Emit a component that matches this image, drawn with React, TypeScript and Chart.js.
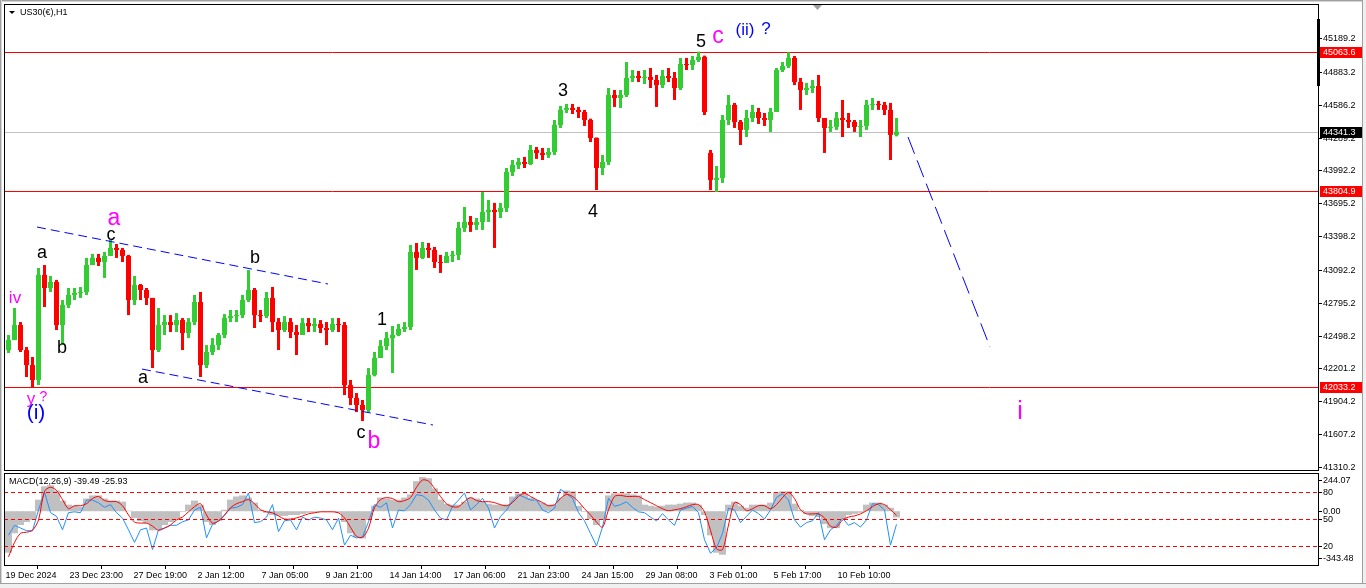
import React, { useEffect, useRef } from "react";
import { Chart, registerables } from "chart.js";
Chart.register(...registerables);

const FONT = '"Liberation Sans", Arial, sans-serif';

// ---- price data (6-hour candles) ----
const firstOpen = 42368;
const gapOpens: Record<number, number> = { 117: 44150 };
const highs = [
  42504, 42748, 42621, 42395, 42305, 43110, 43137, 43038, 43002, 42820,
  42929, 42929, 42938, 43201, 43237, 43237, 43255, 43363, 43327, 43291,
  43228, 43038, 42965, 42929, 42839, 42748, 42684, 42684, 42702, 42657,
  42657, 42866, 42893, 42413, 42476, 42522, 42693, 42730, 42730, 42866,
  43092, 42929, 42730, 42893, 42938, 42657, 42675, 42657, 42594, 42657,
  42657, 42657, 42639, 42621, 42657, 42657, 42621, 42097, 41979, 41916,
  42205, 42350, 42458, 42531, 42585, 42603, 42621, 43318, 43336, 43345,
  43336, 43300, 43228, 43255, 43264, 43526, 43662, 43580, 43562, 43797,
  43725, 43698, 43698, 44014, 44086, 44105, 44114, 44222, 44204, 44195,
  44195, 44448, 44575, 44593, 44593, 44566, 44539, 44460, 44290, 44132,
  44737, 44719, 44719, 44972, 44900, 44891, 44900, 44918, 44855, 44900,
  44918, 44882, 45009, 45009, 45027, 45066, 45030, 44177, 44032, 44493,
  44674, 44602, 44448, 44539, 44584, 44557, 44511, 44557, 44918, 44972,
  45060, 45027, 44828, 44783, 44810, 44855, 44466, 44448, 44520, 44629,
  44511, 44448, 44448, 44629, 44647, 44620, 44611, 44602, 44466,
];
const lows = [
  42341, 42458, 42350, 42124, 42033, 42051, 42757, 42893, 42549, 42413,
  42748, 42820, 42839, 42866, 43137, 43128, 43020, 43219, 43201, 43164,
  42684, 42775, 42820, 42775, 42205, 42350, 42504, 42531, 42531, 42368,
  42476, 42594, 42124, 42205, 42323, 42368, 42476, 42621, 42621, 42657,
  42802, 42567, 42621, 42657, 42531, 42368, 42531, 42476, 42323, 42504,
  42531, 42531, 42522, 42413, 42531, 42531, 41961, 41871, 41807, 41726,
  41807, 42130, 42296, 42368, 42160, 42494, 42531, 42549, 43092, 43190,
  43201, 43110, 43065, 43155, 43164, 43182, 43436, 43436, 43454, 43454,
  43526, 43291, 43562, 43616, 43942, 44005, 44014, 44041, 44096, 44086,
  44105, 44132, 44376, 44511, 44502, 44466, 44394, 44249, 43815, 43951,
  44041, 44566, 44557, 44656, 44791, 44791, 44773, 44737, 44566, 44737,
  44791, 44629, 44719, 44900, 44900, 44972, 44493, 43815, 43797, 43879,
  44403, 44376, 44222, 44294, 44430, 44412, 44394, 44340, 44520, 44882,
  44918, 44764, 44539, 44674, 44692, 44430, 44150, 44340, 44358, 44294,
  44376, 44340, 44294, 44358, 44539, 44539, 44493, 44086, 44300,
];
const closes = [
  42458, 42594, 42368, 42232, 42097, 43047, 42929, 42983, 42594, 42775,
  42866, 42884, 42893, 43137, 43201, 43164, 43219, 43291, 43273, 43219,
  42820, 42956, 42911, 42839, 42368, 42594, 42621, 42594, 42639, 42522,
  42621, 42802, 42232, 42350, 42413, 42504, 42657, 42675, 42684, 42820,
  42911, 42684, 42675, 42839, 42621, 42549, 42621, 42531, 42504, 42612,
  42585, 42603, 42567, 42549, 42603, 42594, 42051, 41934, 41871, 41826,
  42142, 42296, 42404, 42476, 42504, 42558, 42576, 43255, 43201, 43291,
  43273, 43164, 43155, 43219, 43228, 43472, 43526, 43499, 43526, 43616,
  43635, 43616, 43653, 43978, 44041, 44068, 44050, 44177, 44150, 44132,
  44159, 44403, 44539, 44557, 44539, 44520, 44448, 44285, 44014, 44068,
  44674, 44647, 44674, 44828, 44846, 44828, 44837, 44810, 44764, 44846,
  44828, 44737, 44954, 44945, 44990, 45018, 44520, 43906, 43924, 44448,
  44584, 44430, 44358, 44466, 44520, 44466, 44448, 44520, 44900, 44936,
  45009, 44791, 44719, 44737, 44755, 44466, 44376, 44385, 44466, 44448,
  44430, 44385, 44394, 44584, 44593, 44584, 44539, 44313, 44341.3,
];

// ---- MACD panel ----
const macdHist = [
  -265, -141, -88, -69, -56, 74, 159, 166, 133, 68,
  42, 35, 29, 81, 101, 101, 81, 68, 68, 61,
  3, -43, -63, -76, -122, -115, -88, -69, -50, -4,
  42, 68, 42, -69, -88, -63, 9, 74, 94, 101,
  87, 55, 9, -10, -24, -30, -30, -24, -24, -17,
  -10, -10, -4, -4, -4, -10, -69, -141, -167, -174,
  -56, 35, 87, 81, 74, 74, 87, 107, 192, 218,
  211, 146, 74, 48, 42, 42, 61, 87, 81, 61,
  48, 42, 42, 42, 94, 114, 114, 87, 68, 55,
  42, 42, 87, 133, 127, 35, -4, -50, -88, -56,
  101, 114, 114, 114, 107, 101, 42, 35, 29, 35,
  42, 42, 48, 55, 55, 42, -24, -154, -265, -278,
  42, 61, 35, 22, 42, 42, 42, 55, 120, 127,
  127, 48, 9, -17, -30, -37, -82, -108, -108, -50,
  -24, -17, -10, 42, 55, 55, 42, 22, -39.49,
];
const macdSignal = [
  -291, -200, -141, -134, -122, -56, 127, 153, 133, 74,
  16, 35, 35, 48, 81, 94, 68, 61, 61, 35,
  -24, -69, -76, -76, -95, -122, -108, -88, -56, -37,
  -4, 29, 48, -24, -76, -63, -24, 22, 48, 61,
  74, 48, 9, -4, -10, -30, -50, -50, -43, -30,
  -17, -10, -4, -4, -4, -10, -43, -102, -160, -167,
  -108, 22, 74, 87, 81, 61, 68, 87, 153, 199,
  192, 146, 94, 48, 29, 29, 61, 87, 68, 61,
  61, 55, 42, 35, 55, 94, 114, 94, 74, 55,
  35, 42, 81, 107, 94, 61, 16, -24, -69, -102,
  9, 94, 101, 94, 94, 94, 74, 55, 35, 16,
  3, 9, 16, 29, 42, 42, -4, -122, -239, -245,
  -88, 55, 42, 3, 16, 35, 35, 16, 42, 87,
  120, 81, 9, -17, -17, -17, -43, -95, -102, -56,
  -37, -30, -17, 3, 29, 48, 42, 9, -25.93,
];
const oscLine = [
  32, 43, 40, 37, 37, 60, 80, 57, 53, 38,
  57, 58, 57, 71, 71, 68, 63, 66, 57, 51,
  38, 24, 38, 40, 16, 38, 40, 43, 43, 47,
  49, 60, 63, 29, 44, 48, 54, 62, 63, 66,
  79, 46, 47, 52, 66, 36, 48, 49, 38, 52,
  49, 52, 51, 49, 38, 51, 21, 32, 29, 30,
  47, 66, 63, 68, 40, 60, 59, 66, 77, 76,
  71, 60, 51, 49, 64, 71, 79, 60, 66, 73,
  62, 40, 53, 60, 70, 77, 74, 71, 71, 60,
  57, 62, 83, 78, 73, 57, 48, 34, 20, 41,
  73, 64, 66, 69, 63, 58, 57, 52, 48, 56,
  49, 43, 60, 62, 64, 57, 27, 12, 18, 34,
  62, 60, 46, 53, 60, 56, 50, 60, 74, 78,
  71, 49, 41, 46, 48, 57, 27, 38, 43, 51,
  43, 46, 41, 49, 67, 66, 60, 21, 44,
];
const oscLevels = [80, 50, 20];
const macdMax = 244.07;
const macdMin = -343.48;

// ---- axes ----
const xTickHours = [0, 64, 128, 192, 256, 320, 384, 448, 512, 576, 640, 704, 768, 832];
const xTickLabels = [
  "19 Dec 2024", "23 Dec 23:00", "27 Dec 19:00", "2 Jan 12:00", "7 Jan 05:00",
  "9 Jan 21:00", "14 Jan 14:00", "17 Jan 06:00", "21 Jan 23:00", "24 Jan 15:00",
  "29 Jan 08:00", "3 Feb 01:00", "5 Feb 17:00", "10 Feb 10:00",
];
const yTickValues = [
  45189.2, 44883.2, 44586.2, 44289.2, 43992.2, 43695.2, 43398.2, 43092.2,
  42795.2, 42498.2, 42201.2, 41904.2, 41607.2, 41310.2,
];
const priceMin = 41283.3;
const priceMax = 45496.7;
const hourMin = -1.5;
const hourMax = 1312.5;

// ---- drawn objects ----
const levelLines = [45063.6, 43804.9, 42033.2];
const bidPrice = 44341.3;
const upperChannel = [{ x: 31.5, y: 43480 }, { x: 322.5, y: 42965 }];
const lowerChannel = [{ x: 136.5, y: 42196 }, { x: 427.5, y: 41690 }];
const forecastPath = [{ x: 902.5, y: 44294 }, { x: 984.5, y: 42395 }];
const waveLabels = [
  { t: "iv", x: 9.5, y: 42793, k: "magS" },
  { t: "y", x: 25.5, y: 41880, k: "magS" },
  { t: "?", x: 38, y: 41907, k: "magQ" },
  { t: "(i)", x: 30.5, y: 41744, k: "blue" },
  { t: "a", x: 36.5, y: 43200, k: "blk" },
  { t: "b", x: 56.5, y: 42341, k: "blk" },
  { t: "a", x: 108.5, y: 43498, k: "mag" },
  { t: "c", x: 105.5, y: 43363, k: "blk" },
  { t: "a", x: 137.5, y: 42070, k: "blk" },
  { t: "b", x: 249.5, y: 43155, k: "blk" },
  { t: "c", x: 355.5, y: 41573, k: "blk" },
  { t: "b", x: 368.5, y: 41482, k: "mag" },
  { t: "1", x: 376.5, y: 42594, k: "blk" },
  { t: "3", x: 557.5, y: 44665, k: "blk" },
  { t: "4", x: 587.5, y: 43571, k: "blk" },
  { t: "5", x: 695.5, y: 45108, k: "blk" },
  { t: "c", x: 712.5, y: 45144, k: "mag" },
  { t: "(ii)", x: 739.5, y: 45216, k: "blueS" },
  { t: "?", x: 760.5, y: 45226, k: "blueS" },
  { t: "i", x: 1014.5, y: 41744, k: "magL" },
];

const HOURS_PER_CANDLE = 6;
const candleHour = (i: number) => i * HOURS_PER_CANDLE + HOURS_PER_CANDLE / 2;

const labelStyle: Record<string, { size: number; color: string }> = {
  blk: { size: 18, color: "#000000" },
  mag: { size: 23, color: "#ff00ff" },
  magL: { size: 25, color: "#ff00ff" },
  magS: { size: 17, color: "#ff00ff" },
  magQ: { size: 14, color: "#ff00ff" },
  blue: { size: 21, color: "#0000ff" },
  blueS: { size: 17, color: "#0000ff" },
};

const BULL = "#32cd32";
const BEAR = "#ff0000";

function mainConfig(): any {
  const opens = closes.map((c, i) =>
    gapOpens[i] !== undefined ? gapOpens[i] : i === 0 ? firstOpen : closes[i - 1]
  );
  const colors = closes.map((c, i) => (c >= opens[i] ? BULL : BEAR));
  const decor = {
    id: "mainDecor",
    beforeDatasetsDraw(chart: any) {
      const { ctx, chartArea: a, scales } = chart;
      const y = scales.y;
      ctx.save();
      ctx.lineWidth = 1;
      const drawH = (v: number, color: string) => {
        const py = Math.round(y.getPixelForValue(v)) + 0.5;
        ctx.strokeStyle = color;
        ctx.beginPath();
        ctx.moveTo(a.left, py);
        ctx.lineTo(a.right, py);
        ctx.stroke();
      };
      drawH(bidPrice, "#c0c0c0");
      levelLines.forEach((v) => drawH(v, "#ff0000"));
      ctx.restore();
    },
    afterDatasetsDraw(chart: any) {
      const { ctx, scales } = chart;
      ctx.save();
      ctx.textAlign = "center";
      ctx.textBaseline = "alphabetic";
      waveLabels.forEach((w) => {
        const st = labelStyle[w.k];
        ctx.font = `${st.size}px ${FONT}`;
        ctx.fillStyle = st.color;
        ctx.fillText(w.t, scales.x.getPixelForValue(w.x), scales.y.getPixelForValue(w.y));
      });
      ctx.restore();
    },
    afterDraw(chart: any) {
      const { ctx, chartArea: a, scales } = chart;
      const y = scales.y;
      ctx.save();
      ctx.strokeStyle = "#000";
      ctx.lineWidth = 1;
      ctx.strokeRect(4.5, 4.5, a.right - 4, a.bottom - 4);
      ctx.font = `9px ${FONT}`;
      ctx.fillStyle = "#000";
      ctx.textAlign = "left";
      ctx.textBaseline = "middle";
      yTickValues.forEach((v) => {
        const py = Math.round(y.getPixelForValue(v)) + 0.5;
        ctx.beginPath();
        ctx.moveTo(a.right + 1, py);
        ctx.lineTo(a.right + 4, py);
        ctx.stroke();
        ctx.fillText(v.toFixed(1), a.right + 5, py);
      });
      ctx.fillRect(a.right - 1, 19, 3, 67);
      const box = (v: number, bg: string) => {
        const py = Math.round(y.getPixelForValue(v));
        ctx.fillStyle = bg;
        ctx.fillRect(a.right + 2, py - 5, 42, 11);
        ctx.fillStyle = "#fff";
        ctx.fillText(v.toFixed(1), a.right + 5, py + 0.5);
      };
      levelLines.forEach((v) => box(v, "#ff0000"));
      box(bidPrice, "#000000");
      // title
      ctx.fillStyle = "#000";
      ctx.beginPath();
      ctx.moveTo(9, 11);
      ctx.lineTo(15, 11);
      ctx.lineTo(12, 14);
      ctx.closePath();
      ctx.fill();
      ctx.fillText("US30(€),H1", 20, 12.5);
      // shift marker
      ctx.fillStyle = "#a0a0a0";
      ctx.beginPath();
      ctx.moveTo(813, 5);
      ctx.lineTo(822, 5);
      ctx.lineTo(817.5, 10);
      ctx.closePath();
      ctx.fill();
      ctx.restore();
    },
  };
  const lineDs = (data: any[], dash: number[]) => ({
    type: "line",
    data,
    borderColor: "#0000ff",
    borderWidth: 1,
    borderDash: dash,
    pointRadius: 0,
    fill: false,
    order: 0,
  });
  return {
    type: "bar",
    data: {
      datasets: [
        {
          data: closes.map((c, i) => ({ x: candleHour(i), y: [lows[i], highs[i]] })),
          backgroundColor: colors,
          barThickness: 3,
          grouped: false,
          inflateAmount: 0,
          borderWidth: 0,
          order: 2,
        },
        {
          data: closes.map((c, i) => ({
            x: candleHour(i),
            y: [Math.min(opens[i], c), Math.max(opens[i], c)],
          })),
          backgroundColor: colors,
          barThickness: 5,
          minBarLength: 1,
          grouped: false,
          inflateAmount: 0,
          borderWidth: 0,
          order: 1,
        },
        lineDs(upperChannel, [9, 5]),
        lineDs(lowerChannel, [9, 5]),
        lineDs(forecastPath, [18, 7]),
      ],
    },
    options: {
      responsive: false,
      animation: false,
      devicePixelRatio: 1,
      events: [],
      layout: { padding: { left: 4, top: 4, right: 0, bottom: 1 } },
      plugins: { legend: { display: false }, tooltip: { enabled: false } },
      scales: {
        x: { type: "linear", display: false, min: hourMin, max: hourMax, offset: false },
        y: {
          position: "right",
          min: priceMin,
          max: priceMax,
          ticks: { display: false },
          grid: { display: false },
          border: { display: false },
          afterFit: (s: any) => {
            s.width = 48;
          },
        },
      },
    },
    plugins: [decor],
  };
}

function macdConfig(): any {
  const decor = {
    id: "macdDecor",
    afterDatasetsDraw(chart: any) {
      const { ctx, chartArea: a, scales } = chart;
      ctx.save();
      ctx.strokeStyle = "#ff0000";
      ctx.lineWidth = 1;
      ctx.setLineDash([4, 3]);
      oscLevels.forEach((l) => {
        const py = Math.round(scales.y2.getPixelForValue(l)) + 0.5;
        ctx.beginPath();
        ctx.moveTo(a.left, py);
        ctx.lineTo(a.right, py);
        ctx.stroke();
      });
      ctx.restore();
    },
    afterDraw(chart: any) {
      const { ctx, chartArea: a, scales } = chart;
      ctx.save();
      ctx.strokeStyle = "#000";
      ctx.lineWidth = 1;
      ctx.strokeRect(4.5, a.top + 0.5, a.right - 4, a.bottom - a.top);
      ctx.font = `9px ${FONT}`;
      ctx.fillStyle = "#000";
      ctx.textAlign = "left";
      ctx.textBaseline = "middle";
      ctx.fillText(
        `MACD(12,26,9) ${macdHist[macdHist.length - 1].toFixed(2)} ${macdSignal[macdSignal.length - 1].toFixed(2)}`,
        9,
        a.top + 9
      );
      const lab = (text: string, py: number) => {
        const yy = Math.round(py) + 0.5;
        ctx.beginPath();
        ctx.moveTo(a.right + 1, yy);
        ctx.lineTo(a.right + 4, yy);
        ctx.stroke();
        ctx.fillText(text, a.right + 5, yy);
      };
      lab(macdMax.toFixed(2), a.top + 7);
      lab((0).toFixed(2), scales.y.getPixelForValue(0));
      oscLevels.forEach((l) => lab(String(l), scales.y2.getPixelForValue(l)));
      lab(macdMin.toFixed(2), a.bottom - 7);
      ctx.restore();
    },
  };
  return {
    type: "bar",
    data: {
      datasets: [
        {
          type: "line",
          data: macdSignal.map((v, i) => ({ x: candleHour(i), y: v })),
          borderColor: "#ff0000",
          borderWidth: 1,
          pointRadius: 0,
          tension: 0.3,
          yAxisID: "y",
          order: 0,
        },
        {
          type: "line",
          data: oscLine.map((v, i) => ({ x: candleHour(i), y: v })),
          borderColor: "#1e90ff",
          borderWidth: 1,
          pointRadius: 0,
          tension: 0,
          yAxisID: "y2",
          order: 1,
        },
        {
          data: macdHist.map((v, i) => ({ x: candleHour(i), y: v })),
          backgroundColor: "#c0c0c0",
          barThickness: 7,
          grouped: false,
          inflateAmount: 0,
          borderWidth: 0,
          yAxisID: "y",
          order: 2,
        },
      ],
    },
    options: {
      responsive: false,
      animation: false,
      devicePixelRatio: 1,
      events: [],
      layout: { padding: { left: 4, top: 2, right: 0, bottom: 0 } },
      plugins: { legend: { display: false }, tooltip: { enabled: false } },
      scales: {
        x: {
          type: "linear",
          position: "bottom",
          min: hourMin,
          max: hourMax,
          offset: false,
          afterBuildTicks: (s: any) => {
            s.ticks = xTickHours.map((v) => ({ value: v }));
          },
          afterFit: (s: any) => {
            s.height = 23;
          },
          ticks: {
            autoSkip: false,
            maxRotation: 0,
            minRotation: 0,
            align: "start",
            padding: 1,
            color: "#000",
            font: { family: FONT, size: 9 },
            callback: (_v: any, i: number) => xTickLabels[i],
          },
          grid: { drawOnChartArea: false, drawTicks: true, tickLength: 4, color: "#000", tickColor: "#000" },
          border: { display: false },
        },
        y: {
          position: "right",
          min: macdMin,
          max: macdMax,
          ticks: { display: false },
          grid: { display: false },
          border: { display: false },
          afterFit: (s: any) => {
            s.width = 48;
          },
        },
        y2: { position: "right", display: false, min: -1.1, max: 101.1 },
      },
    },
    plugins: [decor],
  };
}

export default function App() {
  const mainRef = useRef<HTMLCanvasElement>(null);
  const macdRef = useRef<HTMLCanvasElement>(null);
  useEffect(() => {
    const main = new Chart(mainRef.current as HTMLCanvasElement, mainConfig());
    const macd = new Chart(macdRef.current as HTMLCanvasElement, macdConfig());
    return () => {
      main.destroy();
      macd.destroy();
    };
  }, []);
  const abs = (l: number, t: number, w: number, h: number, bg: string): React.CSSProperties => ({
    position: "absolute",
    left: l,
    top: t,
    width: w,
    height: h,
    background: bg,
  });
  return (
    <div style={{ position: "absolute", left: 0, top: 0, width: 1366, height: 588, background: "#ffffff", overflow: "hidden" }}>
      <canvas ref={mainRef} width={1366} height={471} style={{ position: "absolute", left: 0, top: 0, width: 1366, height: 471 }} />
      <canvas ref={macdRef} width={1366} height={117} style={{ position: "absolute", left: 0, top: 471, width: 1366, height: 117 }} />
      <div style={abs(0, 0, 1366, 1, "#a0a0a0")} />
      <div style={abs(0, 1, 1366, 1, "#d4d4d4")} />
      <div style={abs(0, 0, 1, 588, "#a0a0a0")} />
      <div style={abs(1, 0, 1, 588, "#d4d4d4")} />
      <div style={abs(1362, 0, 1, 588, "#a0a0a0")} />
      <div style={abs(1363, 0, 3, 588, "#f0f0f0")} />
      <div style={abs(0, 583, 1366, 1, "#a0a0a0")} />
      <div style={abs(0, 584, 1366, 4, "#f0f0f0")} />
    </div>
  );
}
